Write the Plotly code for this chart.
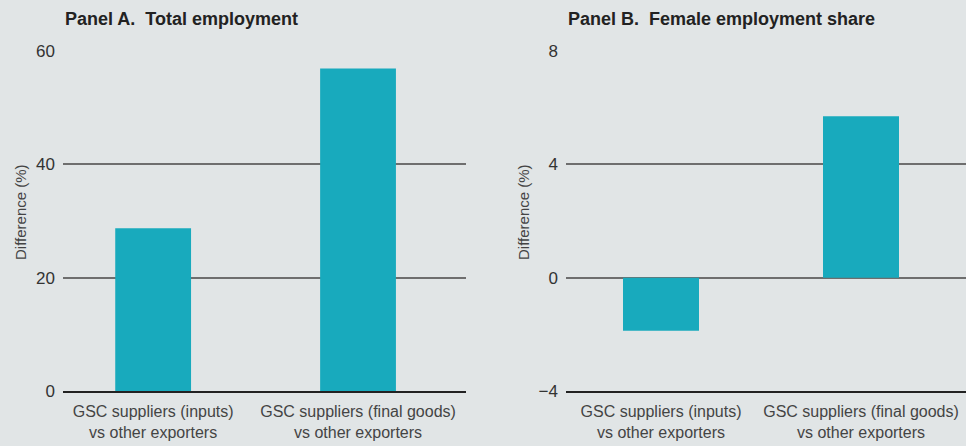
import plotly.graph_objects as go

categories = ["GSC suppliers (inputs)<br>vs other exporters",
              "GSC suppliers (final goods)<br>vs other exporters"]
total_employment = [28.7, 56.9]
female_share = [-1.87, 5.70]
ticks_a = [0, 20, 40, 60]
ticks_b = [-4, 0, 4, 8]
tick_labels_b = ["\u22124", "0", "4", "8"]

W, H = 966, 446
BG = "#e1e5e6"
BAR = "#18aabd"
TFONT = "Liberation Sans, Arial, sans-serif"
FONT = "Liberation Sans, Arial, sans-serif"

def px(x):
    return x / W

def py(y):
    return 1 - y / H

fig = go.Figure()
fig.add_trace(go.Bar(x=categories, y=total_employment, marker_color=BAR,
                     marker_line_width=0, width=0.37, xaxis="x", yaxis="y"))
fig.add_trace(go.Bar(x=categories, y=female_share, marker_color=BAR,
                     marker_line_width=0, width=0.38, xaxis="x2", yaxis="y2"))

yt = [py(391), py(51)]
common_x = dict(showgrid=False, showline=True, linecolor="#222222", linewidth=1.5,
                ticks="", tickfont=dict(family=FONT, size=16, color="#444444"),
                ticklabelstandoff=5, fixedrange=True, automargin=False)
common_y = dict(showgrid=True, gridcolor="#6e6e6e", gridwidth=1.5, zeroline=False,
                ticks="", tickfont=dict(family=FONT, size=17, color="#333333"),
                ticklabelstandoff=7, showline=False, fixedrange=True, automargin=False)

fig.update_layout(
    width=W, height=H,
    margin=dict(l=0, r=0, t=0, b=0, autoexpand=False),
    paper_bgcolor=BG, plot_bgcolor=BG,
    showlegend=False,
    xaxis=dict(domain=[px(63), px(466)], range=[-0.44, 1.527], anchor="y", **common_x),
    yaxis=dict(domain=yt, range=[0, 60], tickvals=ticks_a, anchor="x", **common_y),
    xaxis2=dict(domain=[px(566), px(966)], range=[-0.475, 1.525], anchor="y2", **common_x),
    yaxis2=dict(domain=yt, range=[-4, 8], tickvals=ticks_b, ticktext=tick_labels_b,
                anchor="x2", **common_y),
    annotations=[
        dict(text="<b>Panel A.  Total employment</b>", x=px(63), y=py(19),
             xref="paper", yref="paper", xanchor="left", yanchor="middle",
             showarrow=False, font=dict(family=TFONT, size=18, color="#222222")),
        dict(text="<b>Panel B.  Female employment share</b>", x=px(566), y=py(19),
             xref="paper", yref="paper", xanchor="left", yanchor="middle",
             showarrow=False, font=dict(family=TFONT, size=18, color="#222222")),
        dict(text="Difference (%)", x=px(20), y=py(212), textangle=-90,
             xref="paper", yref="paper", xanchor="center", yanchor="middle",
             showarrow=False, font=dict(family=FONT, size=15, color="#444444")),
        dict(text="Difference (%)", x=px(523), y=py(212), textangle=-90,
             xref="paper", yref="paper", xanchor="center", yanchor="middle",
             showarrow=False, font=dict(family=FONT, size=15, color="#444444")),
    ],
)

fig.write_html("out.html", config={"displayModeBar": False},
               post_script="document.body.style.margin='0';document.body.style.padding='0';")
